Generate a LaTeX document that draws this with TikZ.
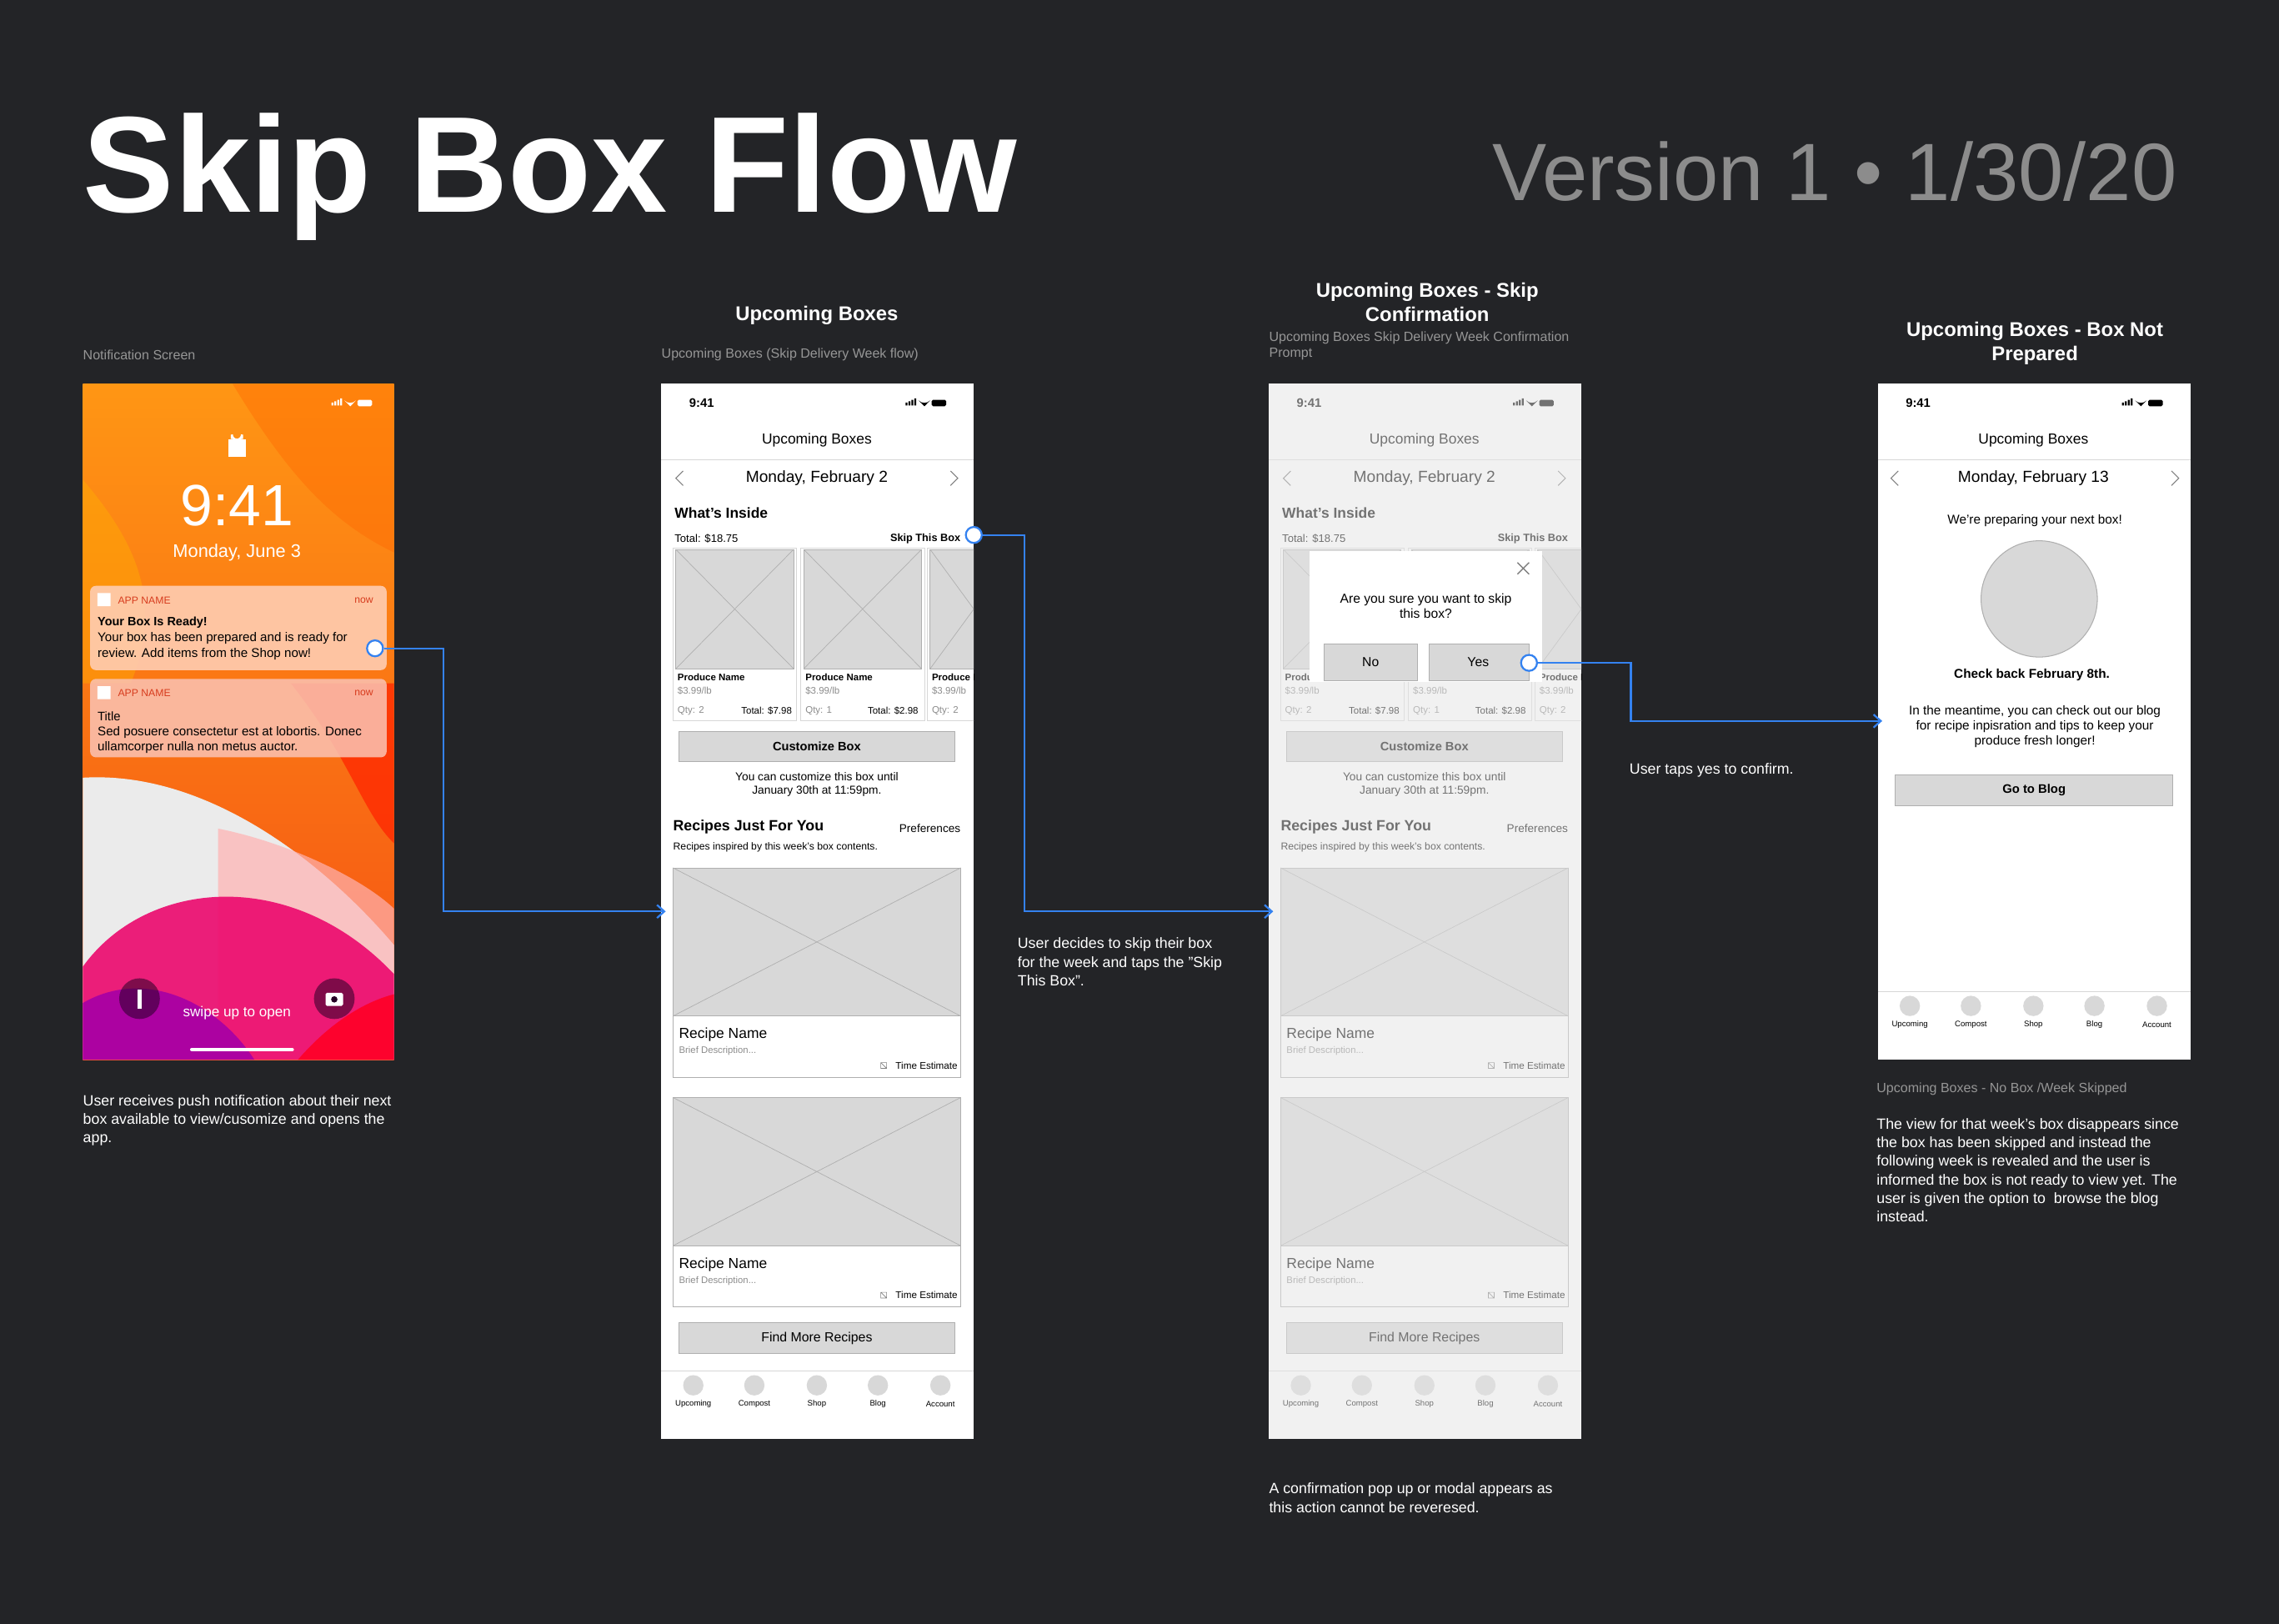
\documentclass[tikz,border=0pt]{standalone}
\usepackage{fontspec}
\setmainfont{Liberation Sans}
\usetikzlibrary{arrows.meta}
\definecolor{bg}{RGB}{35,36,39}
\definecolor{flow}{RGB}{52,130,240}
\definecolor{ph}{RGB}{216,216,216}
\definecolor{phl}{RGB}{175,175,175}
\definecolor{sep}{RGB}{215,215,215}
\definecolor{capg}{RGB}{150,150,150}
\definecolor{txg}{RGB}{140,140,140}
\definecolor{or1}{RGB}{255,150,20}
\definecolor{or2}{RGB}{245,80,20}
\definecolor{appred}{RGB}{215,60,30}
\newcommand\fs[1]{\fontsize{#1}{#1}\selectfont}
\tikzset{
 lbl/.style={inner sep=0,anchor=north west,text=white,align=left,font=\fontsize{10.2}{12.8}\selectfont},
 capt/.style={inner sep=0,anchor=west,text=capg,align=left,font=\fontsize{9.2}{11}\selectfont},
 head/.style={inner sep=0,text=white,align=center,font=\bfseries\fontsize{13.7}{16.5}\selectfont},
 t/.style={inner sep=0,anchor=west,font=\fs{7.5}},
 tg/.style={t,text=txg},
 img/.style={draw=phl,fill=ph,line width=.5},
 dot/.style={circle,draw=flow,fill=white,line width=1.3,minimum size=11,inner sep=0},
 flowline/.style={flow,line width=1.3,-{Straight Barb[length=5pt,width=9pt]}},
 btn/.style={fill=ph,draw=phl,line width=.5}
}
\newcommand\ximg[4]{\filldraw[img] (#1,#2) rectangle (#3,#4); \draw[phl,line width=.4] (#1,#2)--(#3,#4) (#1,#4)--(#3,#2);}
\newcommand\icons[3]{%
 \begin{scope}[shift={(#1,#2)}]
  \fill[#3] (0,2) rectangle ++(1.3,-2) (2,2) rectangle ++(1.3,-3) (4,2) rectangle ++(1.3,-4) (6,2) rectangle ++(1.3,-5);
  \fill[#3] (13,2.5) -- (9,-1.5) arc (135:45:5.6) -- cycle;
  \fill[#3,rounded corners=1] (18,-2) rectangle (28,2.5);
 \end{scope}}
\newcommand\status[3]{%
 \node[inner sep=0,anchor=west,font=\bfseries\fs{8.5},text=#3] at (#1,#2) {9:41};
 \icons{#1+149}{#2}{#3}}
\newcommand\tabbar[1]{%
 \foreach \x/\n in {477/Upcoming,519/Compost,562/Shop,604/Blog,647/Account}{
  \fill[ph] (\x,#1) circle (7);
  \node[inner sep=0,font=\fs{5.5}] at (\x,#1+13) {\n};}}
\newcommand\recipe[2]{%
 \draw[phl,line width=.5] (463,#1) rectangle ++(198,144);
 \filldraw[img] (463,#1) rectangle ++(198,102);
 \draw[phl,line width=.4] (463,#1) -- ++(198,102) (463,#1+102) -- ++(198,-102);
 \node[t,font=\fs{10}] (#2n) at (467,#1+115) {Recipe Name};
 \node[tg,font=\fs{6.5}] (#2d) at (467,#1+126) {Brief Description...};
 \node[t,anchor=east,font=\fs{6.7}] (#2t) at (659,#1+136) {Time Estimate};
 \draw[gray,line width=.4] (606,#1+134) rectangle ++(4,4) (606,#1+134) -- ++(4,4);}
\newcommand\boxphone[1]{%
 \fill[white] (455,264) rectangle (670,990);
 \status{474}{277}{black}
 \node[inner sep=0,font=\fs{10}] (#1h) at (562,303) {Upcoming Boxes};
 \draw[sep] (455,316)--(670,316);
 \node[inner sep=0,font=\fs{11}] (#1date) at (562,329) {Monday, February 2};
 \draw[gray,line width=.6] (470,324)--(465,329)--(470,334) (654,324)--(659,329)--(654,334);
 \node[t,font=\bfseries\fs{10}] (#1w) at (464,353) {What's Inside};
 \node[t] (#1tot) at (464,370.5) {Total: \$18.75};
 \node[t,anchor=east,font=\bfseries\fs{7.3}] (#1skip) at (661,370.5) {Skip This Box};
 \begin{scope}
  \clip (455,264) rectangle (670,990);
  \draw[sep,line width=.5] (463,377) rectangle (548,496) (551,377) rectangle (636,496) (638,377) rectangle (700,496);
  \ximg{465}{378}{546}{460}\ximg{553}{378}{634}{460}\ximg{640}{378}{700}{460}
  \foreach \x in {466,554,641}{
   \node[t,font=\bfseries\fs{6.6}] at (\x,466) {Produce Name};
   \node[tg,font=\fs{6.6}] at (\x,475) {\$3.99/lb};}
  \node[tg,font=\fs{6.6}] at (466,489) {Qty: 2};
  \node[t,anchor=east,font=\fs{6.6}] at (545,489) {Total: \$7.98};
  \node[tg,font=\fs{6.6}] at (554,489) {Qty: 1};
  \node[t,anchor=east,font=\fs{6.6}] at (632,489) {Total: \$2.98};
  \node[tg,font=\fs{6.6}] at (641,489) {Qty: 2};
 \end{scope}
 \filldraw[btn] (467,503) rectangle (657,524);
 \node[inner sep=0,font=\bfseries\fs{8.4}] (#1cust) at (562,513.5) {Customize Box};
 \node[inner sep=0,align=center,font=\fontsize{7.9}{9}\selectfont] (#1until) at (562,539.5) {You can customize this box until\\January 30th at 11:59pm.};
 \node[t,font=\bfseries\fs{10.2}] (#1rj) at (463,569) {Recipes Just For You};
 \node[t,anchor=east,font=\fs{7.8}] (#1pref) at (661,570) {Preferences};
 \node[t,font=\fs{7}] (#1ri) at (463,583) {Recipes inspired by this week's box contents.};
 \recipe{597}{#1ra}
 \recipe{755}{#1rb}
 \filldraw[btn] (467,910) rectangle (657,931);
 \node[inner sep=0,font=\fs{9.1}] (#1more) at (562,920.5) {Find More Recipes};
 \draw[sep] (455,943)--(670,943);
 \tabbar{953}}
\begin{document}
\begin{tikzpicture}[x=1pt,y=-1pt]
\useasboundingbox (0,0) rectangle (1568,1117);
\fill[bg] (0,0) rectangle (1568,1117);
\node[inner sep=0,anchor=base west,text=white,font=\bfseries\fontsize{94}{94}\selectfont] (title) at (57,146) {Skip Box Flow};
\node[inner sep=0,anchor=base east,text=txg,font=\fontsize{56}{56}\selectfont] (version) at (1498,138) {Version 1 • 1/30/20};

% ---------- headings
\node[capt] (cap1) at (57,244) {Notification Screen};
\node[head] (h2) at (562,217) {Upcoming Boxes};
\node[capt] (cap2) at (455,244) {Upcoming Boxes (Skip Delivery Week flow)};
\node[head] (h3) at (982,208) {Upcoming Boxes - Skip\\Confirmation};
\node[capt,anchor=north west] (cap3) at (873,228) {Upcoming Boxes Skip Delivery Week Confirmation\\Prompt};
\node[head] (h4) at (1400,236) {Upcoming Boxes - Box Not\\Prepared};

% ---------- phone 1
\begin{scope}
\clip (57,264) rectangle (271,729);
\shade[top color=or1,bottom color=or2] (57,264) rectangle (271,729);
\fill[orange!80!red,opacity=.4] (160,264) .. controls (200,330) and (230,360) .. (271,380) -- (271,264) -- cycle;
\fill[orange!60!yellow,opacity=.4] (57,330) .. controls (100,380) and (110,420) .. (90,470) -- (57,470) -- cycle;
\fill[red!75!orange,opacity=.7] (200,470) .. controls (240,520) and (250,560) .. (271,580) -- (271,470) -- cycle;
\fill[black!8] (57,535) .. controls (140,530) and (220,590) .. (271,650) -- (271,729) -- (57,729) -- cycle;
\fill[red!30!white,opacity=.7] (150,570) .. controls (200,580) and (250,605) .. (271,625) -- (271,729) -- (150,729) -- cycle;
\fill[magenta!70!red,opacity=.9] (57,665) .. controls (100,605) and (200,595) .. (271,670) -- (271,729) -- (57,729) -- cycle;
\fill[violet!70!magenta,opacity=.9] (57,690) .. controls (100,665) and (150,690) .. (175,729) -- (57,729) -- cycle;
\fill[red!85!magenta,opacity=.9] (205,729) .. controls (230,700) and (255,688) .. (271,684) -- (271,729) -- cycle;
\end{scope}
\icons{228}{277}{white}
\fill[white] (157,302) rectangle (169,314);
\draw[white,line width=1.5] (159.5,302) -- (159.5,299) arc (180:0:3.5) -- (166.5,302);
\node[inner sep=0,text=white,font=\fontsize{40}{40}\selectfont] (clock) at (163,348) {9:41};
\node[inner sep=0,text=white,font=\fs{12.5}] (date1) at (163,380) {Monday, June 3};
\fill[rounded corners=4,fill={rgb,255:red,255;green,205;blue,178},opacity=.9] (62,403) rectangle (266,461);
\fill[rounded corners=4,fill={rgb,255:red,250;green,195;blue,180},opacity=.85] (62,467) rectangle (266,521);
\fill[white] (67,408) rectangle ++(9,9) (67,472) rectangle ++(9,9);
\node[t,text=appred,font=\fs{7}] (app1) at (81,413) {APP NAME};
\node[t,anchor=east,text=appred,font=\fs{7}] (now1) at (257,413) {now};
\node[t,font=\bfseries\fs{8.3}] (nt1) at (67,428.5) {Your Box Is Ready!};
\node[t,anchor=north west,align=left,font=\fontsize{8.7}{10.5}\selectfont] (nb1) at (67,435) {Your box has been prepared and is ready for\\review. Add items from the Shop now!};
\node[t,text=appred,font=\fs{7}] (app2) at (81,477) {APP NAME};
\node[t,anchor=east,text=appred,font=\fs{7}] (now2) at (257,477) {now};
\node[t,font=\fs{8.5}] (nt2) at (67,493) {Title};
\node[t,anchor=north west,align=left,font=\fontsize{8.7}{10.5}\selectfont] (nb2) at (67,499.5) {Sed posuere consectetur est at lobortis. Donec\\ullamcorper nulla non metus auctor.};
\fill[black!70!violet,opacity=.55] (96,687) circle (14) (230,687) circle (14);
\fill[white] (94.5,681) rectangle (97.5,694);
\fill[white,rounded corners=1] (224,683) rectangle (236,692);
\fill[black!70!violet] (230,687.5) circle (2.2);
\node[inner sep=0,text=white,font=\fs{9.8}] (swipe) at (163,697) {swipe up to open};
\draw[white,line width=2.5,line cap=round] (132,722) -- (201,722);
\node[lbl] (d1) at (57,753) {User receives push notification about their next\\box available to view/cusomize and opens the\\app.};

% ---------- phone 2
\boxphone{p}

% ---------- phone 3
\begin{scope}[xshift=418pt]
\boxphone{q}
\end{scope}
\fill[black!10,opacity=.5] (873,264) rectangle (1088,990);
\fill[white] (901,379) rectangle (1061,469);
\draw[gray,line width=.8] (1044,387) -- ++(8,8) (1044,395) -- ++(8,-8);
\node[inner sep=0,align=center,font=\fontsize{9}{10}\selectfont] (ask) at (981,417) {Are you sure you want to skip\\this box?};
\filldraw[btn] (911,443) rectangle (975,468) (983,443) rectangle (1052,468);
\node[inner sep=0,font=\fs{9}] (no) at (943,455.5) {No};
\node[inner sep=0,font=\fs{9}] (yes) at (1017,455.5) {Yes};

% ---------- phone 4
\fill[white] (1292,264) rectangle (1507,729);
\status{1311}{277}{black}
\node[inner sep=0,font=\fs{10}] (h4b) at (1399,303) {Upcoming Boxes};
\draw[sep] (1292,316)--(1507,316);
\node[inner sep=0,font=\fs{11}] (date4) at (1399,329) {Monday, February 13};
\draw[gray,line width=.6] (1306,324)--(1301,329)--(1306,334) (1494,324)--(1499,329)--(1494,334);
\node[inner sep=0,font=\fs{8.8}] (prep) at (1400,358) {We're preparing your next box!};
\filldraw[fill=ph,draw=phl,line width=.6] (1403,412) circle (40);
\node[inner sep=0,font=\bfseries\fs{8.8}] (check) at (1398,464) {Check back February 8th.};
\node[inner sep=0,align=center,font=\fontsize{8.8}{10.4}\selectfont] (mean) at (1400,500) {In the meantime, you can check out our blog\\for recipe inpisration and tips to keep your\\produce fresh longer!};
\filldraw[btn] (1304,533) rectangle (1495,554);
\node[inner sep=0,font=\bfseries\fs{8.5}] (blog) at (1399.5,543.5) {Go to Blog};
\draw[sep] (1292,682)--(1507,682);
\begin{scope}[xshift=837pt]
\tabbar{692}
\end{scope}
\node[capt] (cap4) at (1291,749) {Upcoming Boxes - No Box /Week Skipped};
\node[lbl] (d4) at (1291,769) {The view for that week's box disappears since\\the box has been skipped and instead the\\following week is revealed and the user is\\informed the box is not ready to view yet. The\\user is given the option to\ \ browse the blog\\instead.};

% ---------- descriptions
\node[lbl] (d2) at (700,645) {User decides to skip their box\\for the week and taps the "Skip\\This Box".};
\node[lbl] (d3) at (873,1020) {A confirmation pop up or modal appears as\\this action cannot be reveresed.};
\node[lbl] (d5) at (1121,525) {User taps yes to confirm.};

% ---------- connectors
\node[dot] (c1) at (258,446) {};
\node[dot] (c2) at (670,368) {};
\node[dot] (c3) at (1052,456) {};
\coordinate (e1) at (458,627);
\coordinate (e2) at (876,627);
\coordinate (e3) at (1295,496);
\draw[flowline] (c1) -- ++(47,0) |- (e1);
\draw[flowline] (c2) -- ++(35,0) |- (e2);
\draw[flowline] (c3) -- ++(70,0) |- (e3);
\end{tikzpicture}
\end{document}
